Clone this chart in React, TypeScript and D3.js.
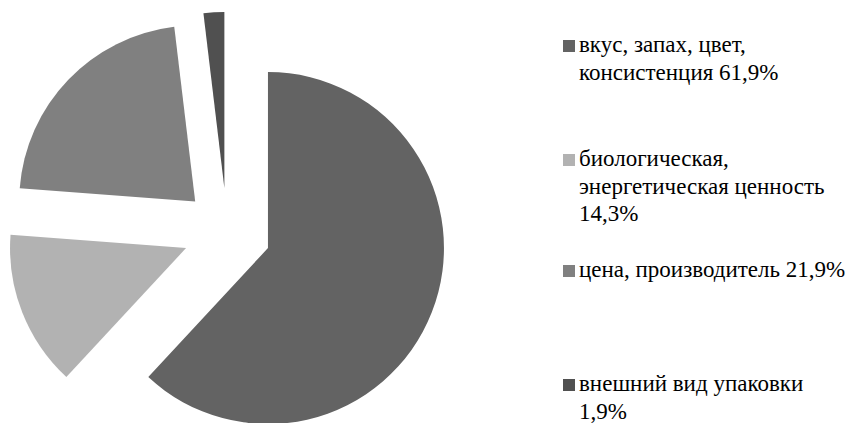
import React from "react";
import * as d3 from "d3";

const categories = [
  "вкус, запах, цвет, консистенция 61,9%",
  "биологическая, энергетическая ценность 14,3%",
  "цена, производитель 21,9%",
  "внешний вид упаковки 1,9%",
];
const values = [61.9, 14.3, 21.9, 1.9];
const legendLines = [
  ["вкус, запах, цвет,", "консистенция 61,9%"],
  ["биологическая,", "энергетическая ценность", "14,3%"],
  ["цена, производитель 21,9%"],
  ["внешний вид упаковки", "1,9%"],
];
const colors = ["#636363", "#b2b2b2", "#808080", "#505050"];

const W = 859;
const H = 423;
const cx = 227;
const cy = 232;
const R = 176;
const explode = 44;
const legendBaselines = [52, 166, 277, 391];
const lineH = 27.5;

export default function App() {
  const pie = d3.pie<number>().sort(null).value((d) => d);
  const arcs = pie(values);
  const arc = d3.arc<d3.PieArcDatum<number>>().innerRadius(0).outerRadius(R);
  return (
    <div style={{ position: "absolute", left: 0, top: 0, fontFamily: "'Liberation Serif', serif" }}>
      <svg width={W} height={H} style={{ fontFamily: "'Liberation Serif', serif" }}>
        <g transform={`translate(${cx},${cy})`}>
          {arcs.map((a, i) => {
            const mid = (a.startAngle + a.endAngle) / 2;
            const dx = Math.sin(mid) * explode;
            const dy = -Math.cos(mid) * explode;
            return (
              <path
                key={categories[i]}
                d={arc(a) || ""}
                fill={colors[i]}
                transform={`translate(${dx},${dy})`}
              />
            );
          })}
        </g>
        <g fontFamily="Liberation Serif" fontSize={23}>
          {legendLines.map((lines, i) => (
            <g key={categories[i]}>
              <rect x={563} y={legendBaselines[i] - 12} width={12} height={12} fill={colors[i]} />
              {lines.map((l, j) => (
                <text
                  key={j}
                  x={579}
                  y={legendBaselines[i] + j * lineH}
                  fontFamily="Liberation Serif"
                  style={{ fontFamily: "'Liberation Serif', serif", fontSize: "23px" }}
                >
                  {l}
                </text>
              ))}
            </g>
          ))}
        </g>
      </svg>
    </div>
  );
}
